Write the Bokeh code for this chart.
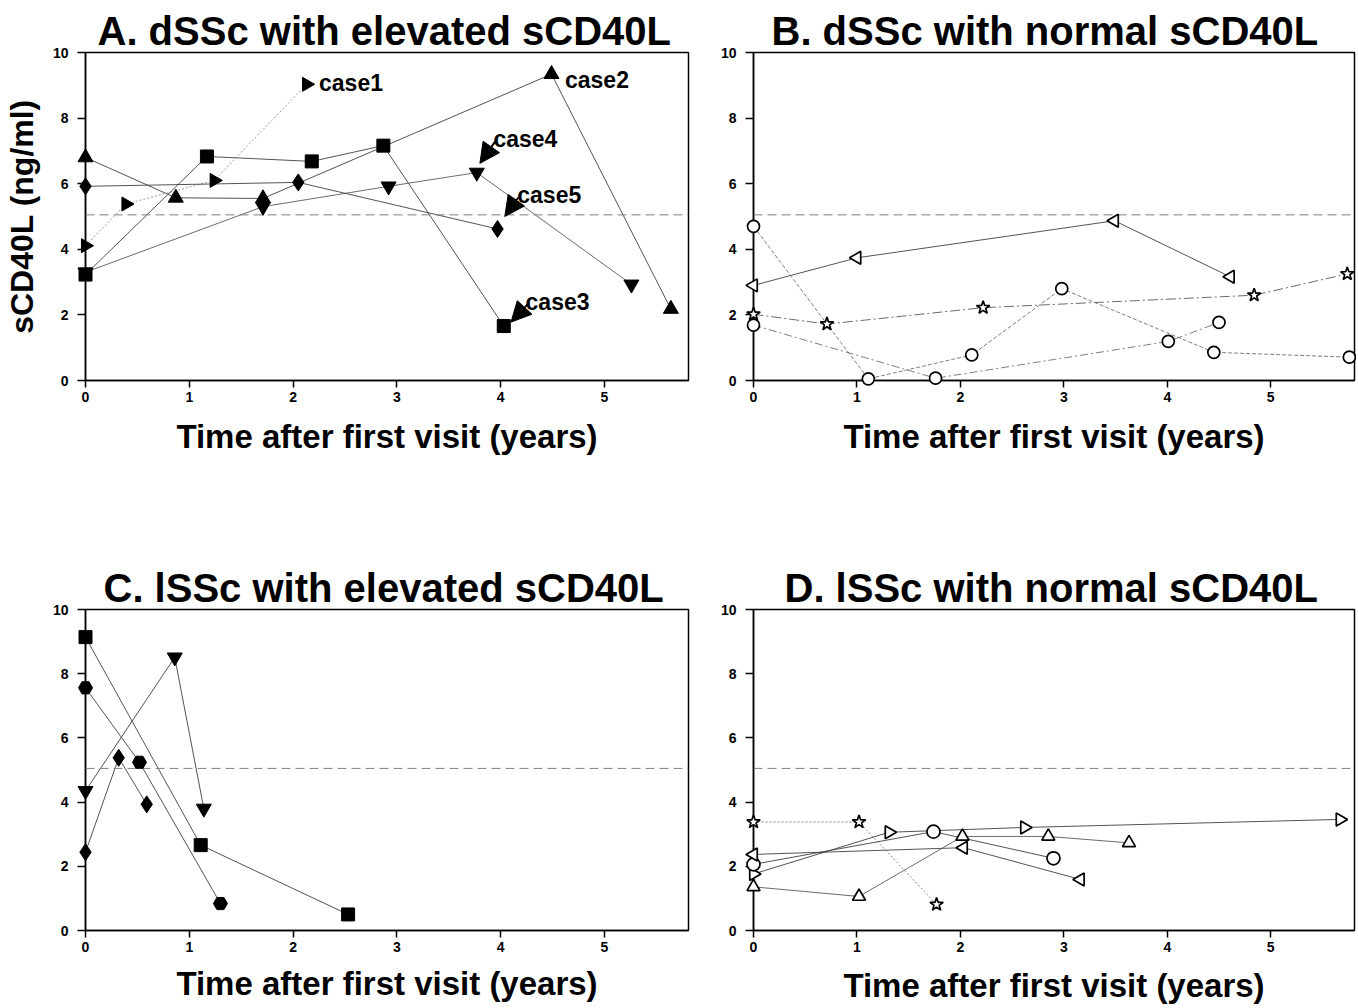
import math
from bokeh.plotting import figure
from bokeh.layouts import column, row
from bokeh.models import FixedTicker, Range1d, Span, Label, Arrow, NormalHead
from bokeh.embed import file_html
from bokeh.resources import INLINE

FONT = "Liberation Sans"

# ---------------- data ----------------
x_ticks = [0, 1, 2, 3, 4, 5]
y_ticks = [0, 2, 4, 6, 8, 10]
threshold = 5.05

# Panel A: dSSc with elevated sCD40L
a_case1_x = [0, 0.39, 1.24, 2.13]
a_case1_y = [4.11, 5.38, 6.10, 9.03]
a_case2_x = [0, 0.87, 1.71, 4.49, 5.64]
a_case2_y = [6.80, 5.57, 5.55, 9.34, 2.18]
a_case3_x = [0, 1.17, 2.18, 2.87, 4.03]
a_case3_y = [3.23, 6.83, 6.68, 7.16, 1.66]
a_case4_x = [0, 1.71, 2.92, 3.77, 5.26]
a_case4_y = [3.30, 5.30, 5.92, 6.34, 2.93]
a_case5_x = [0, 2.05, 3.97]
a_case5_y = [5.92, 6.04, 4.62]

case_names = ["case1", "case2", "case3", "case4", "case5"]
case_label_x = [2.25, 4.62, 4.24, 3.93, 4.16]
case_label_y = [9.06, 9.15, 2.39, 7.37, 5.65]
arrow_cases = ["case3", "case4", "case5"]
arrow_tail_x = [4.27, 3.95, 4.17]
arrow_tail_y = [2.36, 7.30, 5.58]
arrow_tip_x = [4.10, 3.80, 4.04]
arrow_tip_y = [1.78, 6.62, 5.00]

# Panel B: dSSc with normal sCD40L
b_ltri_x = [0, 1.0, 3.49, 4.61]
b_ltri_y = [2.90, 3.74, 4.87, 3.16]
b_star_x = [0, 0.71, 2.22, 4.84, 5.74]
b_star_y = [2.02, 1.72, 2.22, 2.60, 3.25]
b_circ1_x = [0, 1.11, 2.11, 2.98, 4.45, 5.76]
b_circ1_y = [4.70, 0.05, 0.78, 2.80, 0.86, 0.71]
b_circ2_x = [0, 1.76, 4.01, 4.50]
b_circ2_y = [1.69, 0.07, 1.19, 1.77]

# Panel C: lSSc with elevated sCD40L
c_sq_x = [0, 1.11, 2.53]
c_sq_y = [9.14, 2.66, 0.50]
c_hex_x = [0, 0.52, 1.30]
c_hex_y = [7.56, 5.24, 0.84]
c_dtri_x = [0, 0.86, 1.14]
c_dtri_y = [4.35, 8.51, 3.80]
c_diam_x = [0, 0.32, 0.59]
c_diam_y = [2.44, 5.38, 3.93]

# Panel D: lSSc with normal sCD40L
d_star_x = [0, 1.02, 1.77]
d_star_y = [3.38, 3.38, 0.81]
d_rtri_x = [0, 1.31, 2.62, 5.67]
d_rtri_y = [1.76, 3.06, 3.21, 3.46]
d_circ_x = [0, 1.74, 2.90]
d_circ_y = [2.06, 3.08, 2.25]
d_ltri_x = [0, 2.03, 3.16]
d_ltri_y = [2.37, 2.58, 1.59]
d_utri_x = [0, 1.02, 2.02, 2.85, 3.63]
d_utri_y = [1.36, 1.06, 2.93, 2.93, 2.73]

titles = ["A. dSSc with elevated sCD40L", "B. dSSc with normal sCD40L",
          "C. lSSc with elevated sCD40L", "D. lSSc with normal sCD40L"]
title_offsets = [12, 18, 18, 31]
x_label = "Time after first visit (years)"
y_label = "sCD40L (ng/ml)"

# ---------------- helpers ----------------
RIGHT = -math.pi / 2
LEFT = math.pi / 2


def make_fig(i, w, h, bl, br, bt, bb, xend, ylab=None, xlab_standoff=13):
    p = figure(width=w, height=h, x_range=Range1d(0, xend), y_range=Range1d(0, 10),
               output_backend="svg", toolbar_location=None,
               min_border_left=bl, min_border_right=br,
               min_border_top=bt, min_border_bottom=bb)
    p.title.text = titles[i]
    p.title.text_font = FONT
    p.title.text_font_style = "bold"
    p.title.text_font_size = "40px"
    p.title.text_color = "black"
    p.title.align = "left"
    p.title.offset = title_offsets[i]
    p.title.standoff = 0
    p.grid.visible = False
    p.outline_line_color = "black"
    p.outline_line_width = 1.5
    p.outline_line_alpha = 1.0
    p.background_fill_color = "white"
    p.border_fill_color = "white"
    p.xaxis.ticker = FixedTicker(ticks=x_ticks)
    p.yaxis.ticker = FixedTicker(ticks=y_ticks)
    for ax in (p.xaxis[0], p.yaxis[0]):
        ax.axis_line_width = 1.5
        ax.axis_line_color = "black"
        ax.major_tick_line_width = 1.5
        ax.major_tick_line_color = "black"
        ax.major_tick_in = 0
        ax.minor_tick_in = 0
        ax.minor_tick_out = 0
        ax.major_label_text_font = FONT
        ax.major_label_text_font_style = "bold"
        ax.major_label_text_font_size = "14px"
        ax.major_label_text_color = "black"
        ax.axis_label_text_font = FONT
        ax.axis_label_text_font_style = "bold"
        ax.axis_label_text_color = "black"
    p.xaxis.major_tick_out = 7
    p.xaxis.major_label_standoff = 4
    p.xaxis.axis_label = x_label
    p.xaxis.axis_label_text_font_size = "33px"
    p.xaxis.axis_label_standoff = xlab_standoff
    p.yaxis.major_tick_out = 8
    p.yaxis.major_label_standoff = 9
    if ylab:
        p.yaxis.axis_label = ylab
        p.yaxis.axis_label_text_font_size = "32px"
        p.yaxis.axis_label_standoff = 10
    p.add_layout(Span(location=threshold, dimension="width", line_color="#808080",
                      line_dash="9 5", line_width=1))
    return p


def series(p, xs, ys, marker, filled=True, angle=0.0, size=12,
           color="#444444", dash="solid", lw=0.9):
    p.line(xs, ys, line_color=color, line_dash=dash, line_width=lw)
    p.scatter(xs, ys, marker=marker, size=size, angle=angle,
              fill_color="black" if filled else "white", line_color="black",
              line_width=1.0 if filled else 1.7, level="overlay")


# ---------------- Panel A ----------------
pa = make_fig(0, 698, 488, 85, 10, 52, 105, 5.81, ylab=y_label)
series(pa, a_case1_x, a_case1_y, "triangle", angle=RIGHT, size=14, color="#909090", dash="2 2")
series(pa, a_case2_x, a_case2_y, "triangle", size=15, color="#404040")
series(pa, a_case3_x, a_case3_y, "square", size=13, color="#404040")
series(pa, a_case4_x, a_case4_y, "inverted_triangle", size=15, color="#5a5a5a")
series(pa, a_case5_x, a_case5_y, "diamond", size=17, color="#404040")
for name, lx, ly in zip(case_names, case_label_x, case_label_y):
    pa.add_layout(Label(x=lx, y=ly, text=name, text_font=FONT, text_font_style="bold",
                        text_font_size="23px", text_align="left", text_baseline="middle",
                        text_color="black"))
for tx, ty, hx, hy in zip(arrow_tail_x, arrow_tail_y, arrow_tip_x, arrow_tip_y):
    pa.add_layout(Arrow(end=NormalHead(size=20, fill_color="black", line_color="black"),
                        x_start=tx, y_start=ty, x_end=hx, y_end=hy,
                        line_color="black", line_width=2))

# ---------------- Panel B ----------------
pb = make_fig(1, 658, 488, 55, 2, 51, 108, 5.81)
series(pb, b_ltri_x, b_ltri_y, "triangle", filled=False, angle=LEFT, size=13, color="#404040")
series(pb, b_star_x, b_star_y, "star", filled=False, size=14, color="#5a5a5a", dash="10 3 2 3")
series(pb, b_circ1_x, b_circ1_y, "circle", filled=False, size=12, color="#707070", dash="4 2")
series(pb, b_circ2_x, b_circ2_y, "circle", filled=False, size=12, color="#707070", dash="8 3 2 3")

# ---------------- Panel C ----------------
pc = make_fig(2, 698, 518, 85, 10, 121, 66, 5.81, xlab_standoff=10)
series(pc, c_sq_x, c_sq_y, "square", size=13, color="#404040")
series(pc, c_hex_x, c_hex_y, "hex", size=14, color="#404040")
series(pc, c_dtri_x, c_dtri_y, "inverted_triangle", size=15, color="#404040")
series(pc, c_diam_x, c_diam_y, "diamond", size=17, color="#404040")

# ---------------- Panel D ----------------
pd_ = make_fig(3, 658, 518, 55, 2, 120, 69, 5.81, xlab_standoff=12)
series(pd_, d_star_x, d_star_y, "star", filled=False, size=14, color="#7a7a7a", dash="2 2")
series(pd_, d_rtri_x, d_rtri_y, "triangle", filled=False, angle=RIGHT, size=13, color="#404040")
series(pd_, d_circ_x, d_circ_y, "circle", filled=False, size=13, color="#404040")
series(pd_, d_ltri_x, d_ltri_y, "triangle", filled=False, angle=LEFT, size=13, color="#404040")
series(pd_, d_utri_x, d_utri_y, "triangle", filled=False, size=13, color="#5a5a5a")

layout = column(row(pa, pb), row(pc, pd_))
open("out.html", "w").write(file_html(layout, INLINE))
